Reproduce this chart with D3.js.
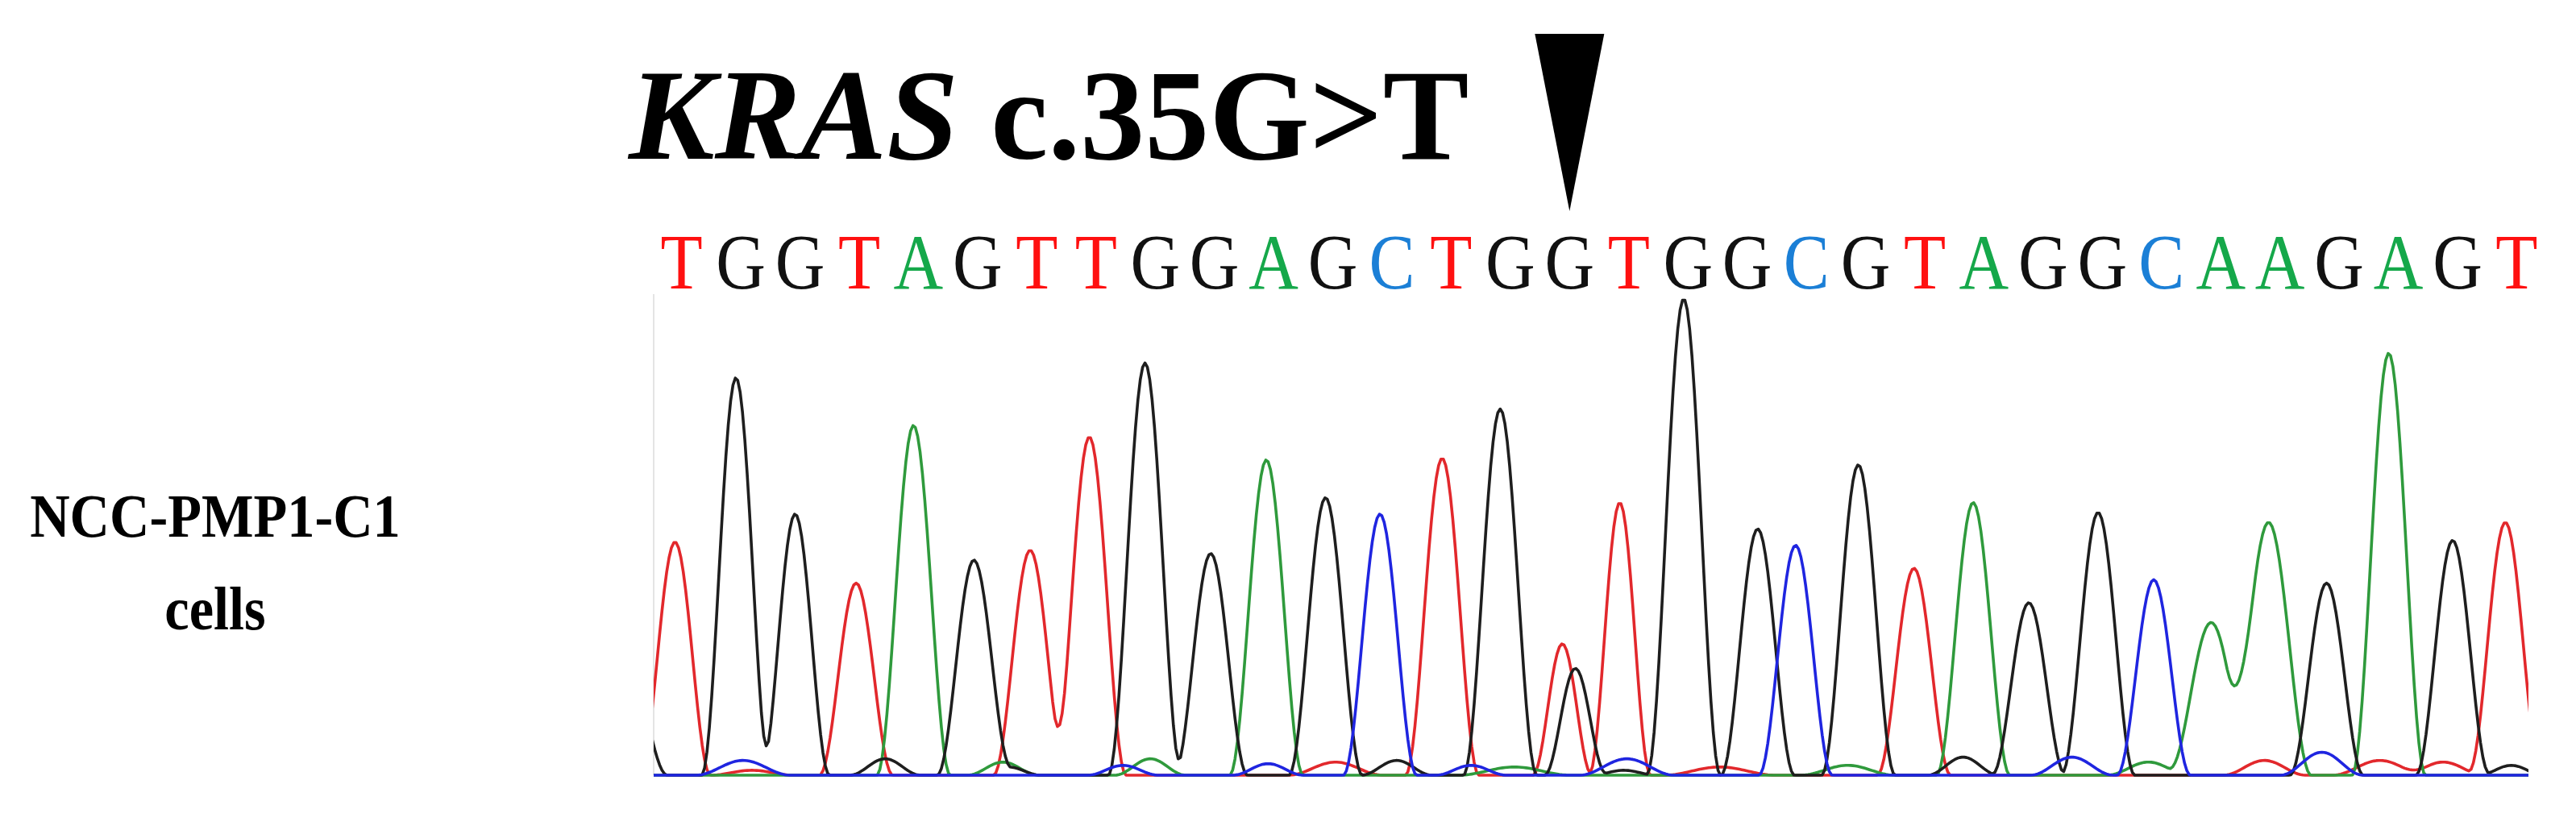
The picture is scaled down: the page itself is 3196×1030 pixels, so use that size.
<!DOCTYPE html>
<html><head><meta charset="utf-8">
<script src="https://cdn.jsdelivr.net/npm/d3@7"></script>
<style>html,body{margin:0;padding:0;background:#fff}svg{display:block}</style>
</head><body>
<script>
// ---------- data ----------
const sequence = "TGGTAGTTGGAGCTGGTGGCGTAGGCAAGAGT".split("");
const mutationIndex = 15;
const titleGene = "KRAS";
const titleVariant = " c.35G>T";
const sampleLabel = ["NCC-PMP1-C1", "cells"];

// peaks per channel: [position (base units), signal height, optional half-width (base units)]
const peaksT = [
  [-0.03,142,0.6],[3.03,117],[5.97,137],[6.97,206],[12.93,193],[14.96,80,0.5],
  [15.93,166,0.52],[20.90,126],[30.89,154],
  [1.27,3,0.7],[11.13,8,0.8],[17.62,5,0.95],[26.82,9,0.7],[28.77,9,0.8],[29.84,8,0.7]
];
const peaksG = [
  [-0.78,60],[1.00,242,0.58],[2.00,159,0.58],[5.02,131],[7.91,251],[9.02,135],[10.96,169],
  [13.91,223],[15.18,65,0.52],[17.01,290],[18.26,150],[19.96,189],[22.84,105],
  [24.01,160],[27.87,117],[30.00,143],
  [3.52,10,0.6],[5.60,5,0.55],[12.16,9,0.6],[16.00,3,0.55],[21.73,11,0.6],[30.99,6,0.55]
];
const peaksA = [
  [4.00,213],[9.96,192],[21.90,166],[25.92,93,0.72],[26.89,154,0.72],[28.92,257],
  [5.51,8,0.6],[8.00,10,0.6],[14.15,5,0.95],[19.78,6,0.8],[24.86,8,0.7]
];
const peaksC = [
  [11.88,159],[18.90,140],[24.95,119],
  [1.12,9,0.8],[7.54,6,0.6],[9.99,7,0.6],[13.42,6,0.6],[16.05,10,0.8],[23.57,11,0.7],[27.79,14,0.7]
];

// ---------- setup ----------
const W = 3196, H = 1030;
const svg = d3.select("body").append("svg").attr("width", W).attr("height", H);

const x = d3.scaleLinear().domain([-0.39, 31.28]).range([811, 3137]);
const y = d3.scaleLinear().domain([0, 300]).range([962, 350.6]);

const traceColor = {T:"#e2282c", G:"#1e1e1e", A:"#2f9a3c", C:"#1f25e0"};
const letterColor = {T:"#ff1010", G:"#111111", A:"#15a84a", C:"#1b7fd6"};
const serif = "'Liberation Serif','Times New Roman',serif";

// ---------- title ----------
const title = svg.append("text")
  .attr("x", 780).attr("y", 197)
  .attr("font-family", serif)
  .attr("font-weight", "bold").attr("font-size", 160).attr("fill", "#000");
title.append("tspan").attr("font-style", "italic").text(titleGene);
title.append("tspan").text(titleVariant);

// arrow pointing to mutated base
const ax = x(mutationIndex) + 6;
svg.append("path")
  .attr("d", `M${ax-43},42 L${ax+43},42 L${ax},262 Z`)
  .attr("fill", "#000");

// ---------- base calls ----------
svg.append("g").selectAll("text").data(sequence).join("text")
  .attr("transform", (d,i) => `translate(${x(i)+6},358) scale(0.88,1)`)
  .attr("text-anchor", "middle")
  .attr("font-family", serif)
  .attr("font-size", 97)
  .attr("fill", d => letterColor[d])
  .text(d => d);

// ---------- sample label ----------
const lab = svg.append("g")
  .attr("font-family", serif)
  .attr("font-weight", "bold").attr("font-size", 76).attr("text-anchor", "middle");
lab.append("text").attr("transform", "translate(267,666) scale(0.9,1)").text(sampleLabel[0]);
lab.append("text").attr("transform", "translate(267,781) scale(0.9,1)").text(sampleLabel[1]);

// ---------- chromatogram ----------
svg.append("defs").append("clipPath").attr("id", "clip")
  .append("rect").attr("x", 811).attr("y", 300).attr("width", 3137-811).attr("height", 680);

svg.append("line").attr("x1", 811).attr("x2", 811).attr("y1", 365).attr("y2", 962)
  .attr("stroke", "#e4e4e4").attr("stroke-width", 2);

const DEFAULT_HALF = 0.62;
const [p0, p1] = x.domain();
const samples = d3.range(p0 - 0.1, p1 + 0.1, 0.04);
function trace(peaks) {
  return samples.map(p => {
    let s = 0;
    for (const [c, h, w] of peaks) {
      const b = w || DEFAULT_HALF;
      const d = Math.abs(p - c);
      if (d < b) { const v = Math.cos(Math.PI * d / (2 * b)); s += h * v * v; }
    }
    return [p, s];
  });
}
const line = d3.line().x(d => x(d[0])).y(d => y(d[1]));
const channels = [["T", peaksT], ["A", peaksA], ["G", peaksG], ["C", peaksC]];
const chrom = svg.append("g").attr("clip-path", "url(#clip)");
chrom.selectAll("path").data(channels).join("path")
  .attr("d", d => line(trace(d[1])))
  .attr("fill", "none")
  .attr("stroke", d => traceColor[d[0]])
  .attr("stroke-width", 3.6)
  .attr("stroke-linejoin", "round");
</script>
</body></html>
